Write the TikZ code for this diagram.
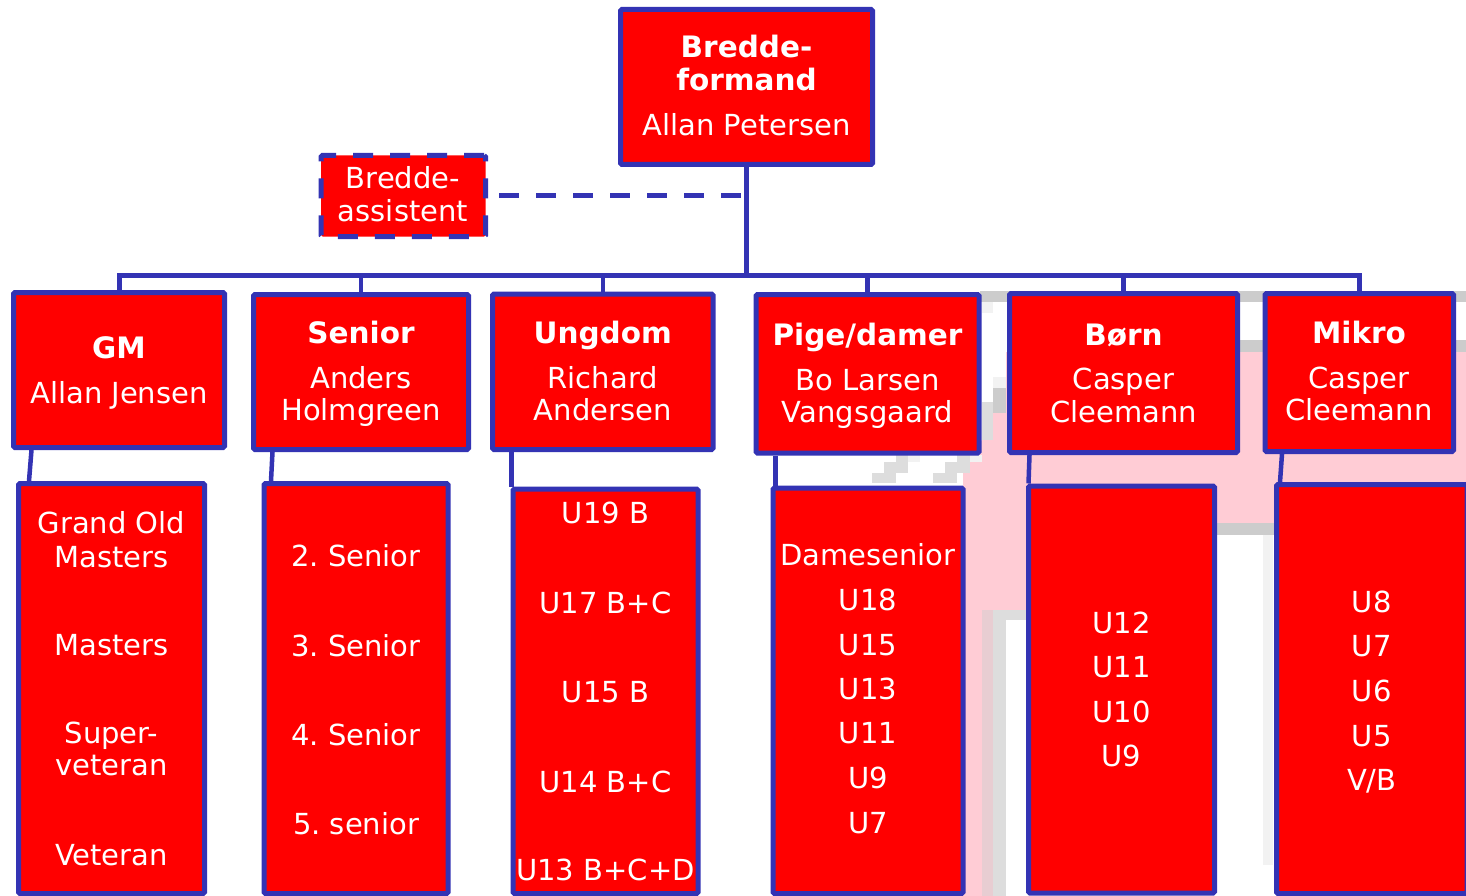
\documentclass[tikz,border=0pt]{standalone}
\usepackage{fontspec}
\setmainfont{DejaVu Sans}
\usetikzlibrary{calc,fit}
\definecolor{boxred}{RGB}{255,0,0}
\definecolor{boxblue}{RGB}{51,51,180}
\definecolor{bgpink}{RGB}{255,204,213}
\definecolor{bggray}{RGB}{204,204,204}
\definecolor{bglight}{RGB}{242,242,242}
\definecolor{bgmid}{RGB}{221,221,221}
\definecolor{bgpg}{RGB}{232,205,210}
\frenchspacing
\begin{document}
\begin{tikzpicture}[x=1pt,y=-1pt,
  box/.style={draw=boxblue, fill=boxred, line width=5pt, inner sep=0pt, rounded corners=1.5pt},
  dbox/.style={box, dash pattern=on 20pt off 17pt},
  conn/.style={draw=boxblue, line width=5pt},
  thinconn/.style={draw=boxblue, line width=4.5pt},
  dconn/.style={conn, dash pattern=on 20pt off 17pt, dash phase=31pt},
  txt/.style={text=white, anchor=base, inner sep=0pt, font=\fontsize{29}{33}\selectfont\frenchspacing},
  btxt/.style={text=white, anchor=base, inner sep=0pt, font=\fontsize{29.5}{33}\selectfont\bfseries}]
\clip (0,0) rectangle (1466,896);
\fill[white] (0,0) rectangle (1466,896);
% background artefacts
\fill[bggray] (980,291) rectangle (1466,302);
\fill[bggray] (1010,340) rectangle (1466,352);
\fill[bgpink] (963,896) -- (963,473) -- (970,462) -- (982,440) -- (993,413) -- (1006,390) -- (1006,352)
  -- (1466,352) -- (1466,523) -- (1026,523) -- (1026,610) -- (982,610) -- (982,896) -- cycle;
\fill[bggray] (1214,523) rectangle (1274,535);
\fill[bglight] (1263,535) rectangle (1273,865);
\fill[bgpg] (982,610) rectangle (993,896);
\fill[bgmid] (993,620) rectangle (1006,896);
\fill[bgmid] (993,610) rectangle (1026,620);
\fill[bgmid] (872,473) rectangle (884,483);
\fill[bgmid] (884,462) rectangle (896,483);
\fill[bgmid] (896,455) rectangle (908,473);
\fill[bglight] (908,455) rectangle (920,462);
\fill[bgmid] (933,473) rectangle (945,483);
\fill[bgmid] (945,462) rectangle (957,483);
\fill[bgmid] (957,455) rectangle (970,473);
\fill[bglight] (970,455) rectangle (982,462);
\fill[bglight] (982,302) rectangle (993,313);
\fill[bglight] (993,377) rectangle (1006,388);
\fill[bggray] (993,388) rectangle (1006,413);
\fill[bgmid] (982,402) rectangle (993,440);
% boxes
\node[box, fit={(620.5,9.5) (872.5,164.5)}] (top) {};
\node[dbox, fit={(321,155.5) (485.5,236.5)}] (assist) {};
\node[box, fit={(13.5,292.5) (224.5,447.5)}] (gm) {};
\node[box, fit={(253.5,294.5) (468.5,449.5)}] (senior) {};
\node[box, fit={(492.5,294) (713,449.5)}] (ungdom) {};
\node[box, fit={(756,294.5) (979,453)}] (pige) {};
\node[box, fit={(1009.5,293.5) (1237.5,452.5)}] (born) {};
\node[box, fit={(1265,293.5) (1453.5,451.5)}] (mikro) {};
\node[box, fit={(18.5,483.5) (204.5,893.5)}] (gml) {};
\node[box, fit={(264,483.5) (448,893.5)}] (senl) {};
\node[box, fit={(513,489) (698,893.5)}] (ungl) {};
\node[box, fit={(773,488) (963,893.5)}] (pigel) {};
\node[box, fit={(1028.5,486) (1214.5,893)}] (bornl) {};
\node[box, fit={(1276.5,484.5) (1467,893.5)}] (mikrol) {};
% connectors
\coordinate (bar) at (746.5,275.5);
\draw[conn] (top.south) -- (bar);
\draw[conn] (gm.north) -- (gm.north |- bar) -- (mikro.north |- bar) -- (mikro.north);
\foreach \n in {senior,ungdom,pige,born} \draw[thinconn] (\n.north) -- (\n.north |- bar);
\draw[dconn] (top.south |- assist.east) -- (assist.east);
\draw[thinconn] ($(gm.south west)+(20.5,0)$) -- ($(gml.north west)+(13,0)$);
\draw[thinconn] ($(senior.south west)+(21.5,0)$) -- ($(senl.north west)+(9.5,0)$);
\draw[thinconn] ($(ungdom.south west)+(21.5,0)$) -- ($(ungl.north west)+(1,0)$);
\draw[thinconn] ($(pige.south west)+(22,0)$) -- ($(pigel.north west)+(5,0)$);
\draw[thinconn] ($(born.south west)+(22.5,0)$) -- ($(bornl.north west)+(2.5,0)$);
\draw[thinconn] ($(mikro.south west)+(19.5,0)$) -- ($(mikrol.north west)+(6,0)$);
% texts
\node[btxt] (top-a) at (746.5,58) {Bredde-};
\node[btxt] (top-b) at (746.5,91) {formand};
\node[txt] (top-c) at (746.5,136) {Allan Petersen};
\node[txt] (as-a) at (403,189) {Bredde-};
\node[txt] (as-b) at (403,222) {assistent};
\node[btxt] (gm-a) at (119,358) {GM};
\node[txt] (gm-b) at (119,403) {Allan Jensen};
\node[btxt] (se-a) at (361,343) {Senior};
\node[txt] (se-b) at (361,388) {Anders};
\node[txt] (se-c) at (361,420) {Holmgreen};
\node[btxt] (un-a) at (602.75,343) {Ungdom};
\node[txt] (un-b) at (602.75,388) {Richard};
\node[txt] (un-c) at (602.75,420) {Andersen};
\node[btxt] (pi-a) at (867.5,345) {Pige/damer};
\node[txt] (pi-b) at (867.5,390) {Bo Larsen};
\node[txt] (pi-c) at (867.5,422) {Vangsgaard};
\node[btxt] (bo-a) at (1123.5,345) {Børn};
\node[txt] (bo-b) at (1123.5,389) {Casper};
\node[txt] (bo-c) at (1123.5,422) {Cleemann};
\node[btxt] (mi-a) at (1359,343) {Mikro};
\node[txt] (mi-b) at (1359,388) {Casper};
\node[txt] (mi-c) at (1359,420) {Cleemann};
\foreach \y/\t [count=\i] in {533/Grand Old,567/Masters,655/Masters,743/Super-,775/veteran,865/Veteran}
  \node[txt] (gml-\i) at (111.5,\y) {\t};
\foreach \y/\t [count=\i] in {566/2. Senior,656/3. Senior,745/4. Senior,834/5. senior}
  \node[txt] (senl-\i) at (356,\y) {\t};
\foreach \y/\t [count=\i] in {523/U19 B,613/U17 B+C,702/U15 B,792/U14 B+C,880/U13 B+C+D}
  \node[txt] (ungl-\i) at (605.5,\y) {\t};
\foreach \y/\t [count=\i] in {565/Damesenior,610/U18,655/U15,699/U13,743/U11,788/U9,833/U7}
  \node[txt] (pigel-\i) at (868,\y) {\t};
\foreach \y/\t [count=\i] in {633/U12,677/U11,722/U10,766/U9}
  \node[txt] (bornl-\i) at (1121.5,\y) {\t};
\foreach \y/\t [count=\i] in {612/U8,656/U7,701/U6,746/U5,790/{V/B}}
  \node[txt] (mikrol-\i) at (1371.75,\y) {\t};
\end{tikzpicture}
\end{document}
